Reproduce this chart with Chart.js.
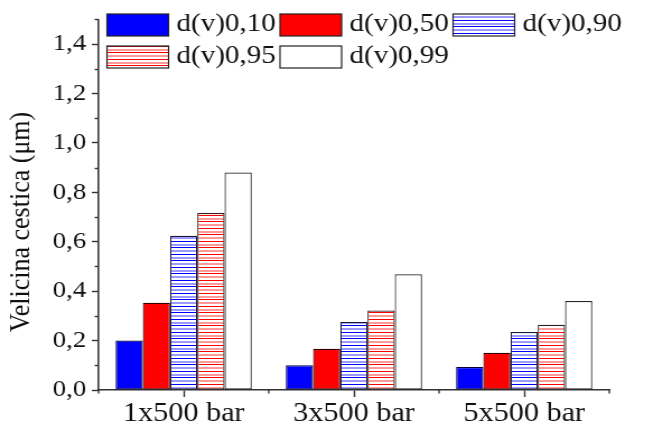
<!DOCTYPE html>
<html>
<head>
<meta charset="utf-8">
<script src="https://cdn.jsdelivr.net/npm/chart.js@4.4.1/dist/chart.umd.min.js"></script>
<style>
  html, body { margin: 0; padding: 0; background: #ffffff; }
  #wrap { width: 582px; height: 426px; transform: scaleX(1.12); transform-origin: 0 0; }
  #probe { font-family: "Liberation Serif"; position: absolute; left: -1000px; top: 0; font-size: 20px; }
</style>
</head>
<body>
<span id="probe">d(v)0,10 Velicina cestica (μm) 1x500 bar</span>
<div id="wrap"><canvas id="c"></canvas></div>
<script>
// ---- data ----
const categories = ['1x500 bar', '3x500 bar', '5x500 bar'];
const seriesLabels = ['d(v)0,10', 'd(v)0,50', 'd(v)0,90', 'd(v)0,95', 'd(v)0,99'];
const d10 = [0.200, 0.100, 0.093];
const d50 = [0.353, 0.167, 0.151];
const d90 = [0.624, 0.275, 0.235];
const d95 = [0.716, 0.322, 0.264];
const d99 = [0.880, 0.468, 0.360];
const yTickValues = [0, 0.2, 0.4, 0.6, 0.8, 1.0, 1.2, 1.4];
const yMin = 0, yMax = 1.5;
const yTitle = 'Velicina cestica (μm)';

const FONT = '"Liberation Serif"';

function hatch(dark, light) {
  const c = document.createElement('canvas');
  c.width = 4; c.height = 13;
  const g = c.getContext('2d');
  g.fillStyle = '#ffffff'; g.fillRect(0, 0, 4, 13);
  g.fillStyle = dark; g.fillRect(0, 0, 4, 1); g.fillRect(0, 7, 4, 1);
  g.fillStyle = light; g.fillRect(0, 3, 4, 2); g.fillRect(0, 10, 4, 2);
  return g.createPattern(c, 'repeat');
}

function build() {
  const ctx0 = document.getElementById('c').getContext('2d');
  const blueHatch = hatch('#0000ff', '#9a9aff');
  const redHatch = hatch('#ff0000', '#ff9a9a');

  const seriesValues = [d10, d50, d90, d95, d99];
  const fills = ['#0000ff', '#ff0000', blueHatch, redHatch, '#ffffff'];
  const borders = ['#000040', '#300000', '#1a1a33', '#331a1a', '#222222'];

  const datasets = seriesValues.map((vals, i) => ({
    label: seriesLabels[i],
    data: vals,
    backgroundColor: fills[i],
    borderColor: borders[i],
    borderWidth: 1.2,
    borderSkipped: false,
    categoryPercentage: 0.8,
    barPercentage: 1.0
  }));

  const extras = {
    id: 'extras',
    afterDraw(chart) {
      const ctx = chart.ctx;
      const xs = chart.scales.x, ys = chart.scales.y;
      ctx.save();
      ctx.strokeStyle = '#333333';
      ctx.lineWidth = 1.4;
      for (let k = 1; k <= 15; k += 2) {
        const py = Math.round(ys.getPixelForValue(k / 10)) + 0.5;
        ctx.beginPath(); ctx.moveTo(xs.left - 3.5, py); ctx.lineTo(xs.left, py); ctx.stroke();
      }
      for (let i = 0; i <= categories.length; i++) {
        const px = xs.getPixelForValue(i - 0.5);
        ctx.beginPath(); ctx.moveTo(px, ys.bottom); ctx.lineTo(px, ys.bottom + 3.5); ctx.stroke();
      }
      // y axis title (slightly below the axis centre, as in the original)
      ctx.save();
      ctx.translate(19.6, ys.getPixelForValue(0.68));
      ctx.rotate(-Math.PI / 2);
      ctx.font = '26px ' + FONT;
      ctx.textAlign = 'center';
      ctx.textBaseline = 'middle';
      ctx.fillStyle = '#111111';
      ctx.fillText(yTitle, 0, 0);
      ctx.restore();
      // legend
      ctx.font = '26px ' + FONT;
      ctx.textBaseline = 'alphabetic';
      ctx.textAlign = 'left';
      chart.data.datasets.forEach((ds, i) => {
        const col = i % 3, row = Math.floor(i / 3);
        const bx = 95.5 + col * 154.5, by = 14 + row * 32;
        ctx.fillStyle = ds.backgroundColor;
        ctx.fillRect(bx, by, 55, 22);
        ctx.strokeStyle = '#222222';
        ctx.lineWidth = 1.2;
        ctx.strokeRect(bx, by, 55, 22);
        ctx.fillStyle = '#111111';
        ctx.fillText(ds.label, bx + 55 + 7, by + 17);
      });
      ctx.restore();
    }
  };

  new Chart(ctx0, {
    type: 'bar',
    data: { labels: categories, datasets },
    options: {
      responsive: true,
      maintainAspectRatio: false,
      animation: false,
      devicePixelRatio: 1,
      layout: { padding: { top: 15, right: 38, bottom: 0, left: 0 } },
      plugins: { legend: { display: false }, tooltip: { enabled: false } },
      scales: {
        x: {
          offset: true,
          grid: { offset: false, drawOnChartArea: false, drawTicks: true, tickLength: 7, color: '#333333', tickWidth: 1.4 },
          border: { display: true, color: '#333333', width: 1.6 },
          ticks: { color: '#111111', font: { family: FONT, size: 27 }, padding: 1, maxRotation: 0 },
          afterFit(s) { s.height = 36; }
        },
        y: {
          min: yMin, max: yMax,
          afterBuildTicks(s) { s.ticks = yTickValues.map(v => ({ value: v })); },
          grid: { drawOnChartArea: false, drawTicks: true, tickLength: 6, color: '#333333', tickWidth: 1.4 },
          border: { display: true, color: '#333333', width: 1.6 },
          ticks: {
            color: '#111111', font: { family: FONT, size: 24 }, padding: 5,
            callback: v => Number(v).toFixed(1).replace('.', ',')
          },
          afterFit(s) { s.width = 88; }
        }
      }
    },
    plugins: [extras]
  });
}

Promise.all([
  document.fonts.load('26px "Liberation Serif"', 'd(v)0,10 μm'),
  document.fonts.ready
]).then(build, build);
</script>
</body>
</html>
